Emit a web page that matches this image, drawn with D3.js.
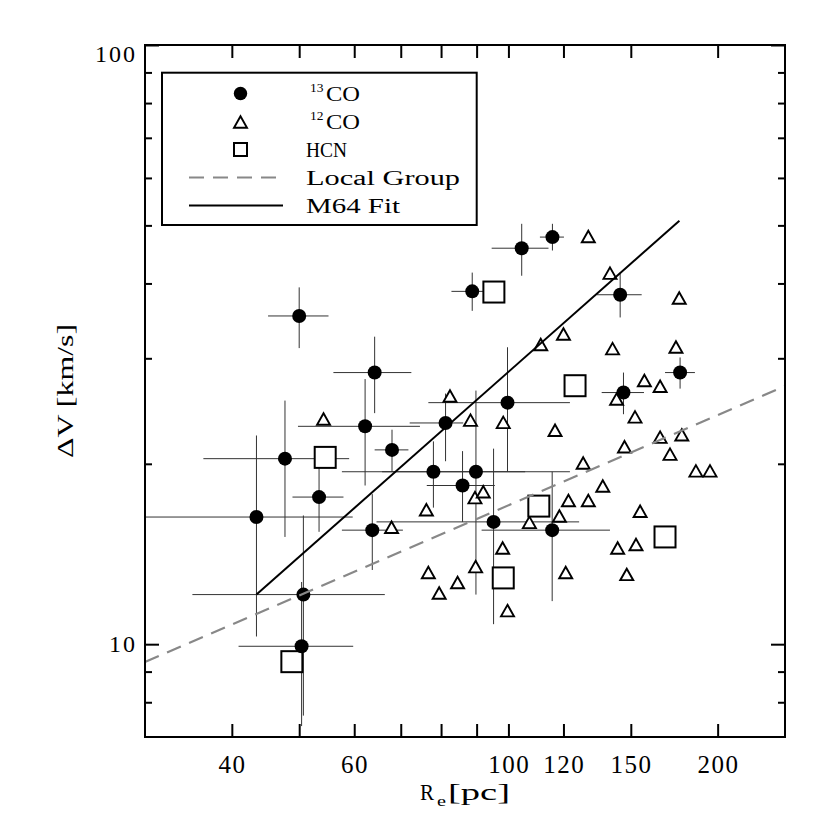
<!DOCTYPE html>
<html><head><meta charset="utf-8">
<script src="https://cdn.jsdelivr.net/npm/d3@7"></script>
<style>body{margin:0;background:#fff}</style>
</head><body>
<svg id="c" width="830" height="830" xmlns="http://www.w3.org/2000/svg"></svg>
<script>
// ---- data ----
const co13X   = [50.0, 88.7, 64.2, 62.2, 81.2, 68.0, 47.7, 53.4, 43.4, 78.0, 89.8, 85.9, 63.7, 50.7, 50.4, 104.5, 115.7, 144.8, 176.6, 146.4, 99.7, 95.2, 115.6];
const co13Y   = [35.3, 38.8, 28.4, 23.1, 23.4, 21.1, 20.4, 17.6, 16.3, 19.4, 19.4, 18.4, 15.5, 12.1, 9.92, 45.8, 47.8, 38.3, 28.4, 26.3, 25.3, 16.0, 15.5];
const co13XLo = [45.1, 82.8, 56.0, 49.8, 72.1, 64.2, 36.4, 48.9, 28.0, 57.6, 65.8, 76.3, 57.6, 35.1, 40.9, 94.6, 111.0, 134.0, 168.0, 136.2, 76.7, 64.6, 91.5];
const co13XHi = [55.1, 94.6, 72.5, 74.6, 86.1, 71.8, 59.0, 57.9, 59.7, 105.7, 122.6, 95.6, 70.5, 66.4, 59.8, 114.2, 120.2, 155.5, 185.5, 156.7, 122.6, 126.4, 140.0];
const co13YLo = [31.2, 36.0, 24.3, 18.4, 20.2, 19.4, 15.1, 15.4, 10.3, 16.9, 12.1, 16.0, 13.3, 7.6, 7.3, 41.2, 45.4, 35.1, 26.7, 24.2, 19.4, 10.8, 11.8];
const co13YHi = [39.4, 41.7, 32.6, 27.7, 26.2, 22.8, 25.5, 19.8, 22.3, 21.8, 26.5, 21.0, 17.8, 16.4, 12.7, 50.3, 50.3, 41.5, 30.1, 28.4, 31.3, 21.2, 19.4];

const co12X = [54.2, 82.4, 88.2, 76.2, 89.5, 67.9, 76.7, 84.5, 79.5, 89.7, 130.3, 140.0, 176.1, 120.0, 111.3, 141.2, 174.2, 156.9, 165.3, 143.1, 98.3, 152.1, 116.7, 165.3, 177.6, 146.9, 170.8, 128.1, 186.1, 195.0, 136.7, 92.0, 122.0, 130.3, 154.7, 118.4, 107.2, 98.1, 152.6, 143.6, 120.9, 148.0, 99.7];
const co12Y = [23.8, 26.0, 23.7, 16.8, 17.6, 15.7, 13.2, 12.7, 12.2, 13.5, 48.0, 41.7, 37.9, 33.0, 31.7, 31.2, 31.4, 27.6, 27.0, 25.7, 23.5, 24.0, 22.8, 22.2, 22.4, 21.4, 20.8, 20.1, 19.5, 19.5, 18.4, 18.0, 17.4, 17.4, 16.7, 16.4, 16.0, 14.5, 14.7, 14.5, 13.2, 13.1, 11.4];

const hcnX = [54.5, 95.3, 124.7, 110.6, 98.3, 168.0, 48.8];
const hcnY = [20.5, 38.7, 27.0, 17.0, 12.9, 15.1, 9.35];

const localGroupX = [30, 250];
const localGroupY = [9.34, 26.96];
const m64FitX = [43.4, 176.2];
const m64FitY = [12.1, 50.9];

const xTickValues = [40, 50, 60, 70, 80, 90, 100, 120, 150, 200];
const xTickLabelValues = [40, 60, 100, 120, 150, 200];
const xTickLabels = ["40", "60", "100", "120", "150", "200"];
const yMajorTicks = [10, 100];
const yMinorTicks = [8, 9, 20, 30, 40, 50, 60, 70, 80, 90];
const yTickLabels = ["10", "100"];

const legendSup = ["13", "12"];
const legendLabels = ["CO", "CO", "HCN", "Local Group", "M64 Fit"];

// ---- layout ----
const L = 145, R = 785, T = 45, B = 737;
const x = d3.scaleLog().domain([30, 250]).range([L, R]);
const y = d3.scaleLog().domain([7, 100]).range([B, T]);
const FONT = "'Liberation Serif', 'Times New Roman', serif";

const svg = d3.select("#c");
svg.append("rect").attr("width", 830).attr("height", 830).attr("fill", "#fff");

svg.append("defs").append("clipPath").attr("id", "plotclip")
  .append("rect").attr("x", L).attr("y", T).attr("width", R - L).attr("height", B - T);

const plot = svg.append("g").attr("clip-path", "url(#plotclip)");

// error bars
const co13 = co13X.map((v, i) => ({x: v, y: co13Y[i], xl: co13XLo[i], xh: co13XHi[i], yl: co13YLo[i], yh: co13YHi[i]}));
const eb = plot.append("g").attr("stroke", "#333").attr("stroke-width", 1).attr("fill", "none");
eb.selectAll("line.h").data(co13).join("line").attr("class", "h")
  .attr("x1", d => x(d.xl)).attr("x2", d => x(d.xh))
  .attr("y1", d => y(d.y)).attr("y2", d => y(d.y));
eb.selectAll("line.v").data(co13).join("line").attr("class", "v")
  .attr("x1", d => x(d.x)).attr("x2", d => x(d.x))
  .attr("y1", d => y(d.yl)).attr("y2", d => y(d.yh));

// triangles (12CO)
const triPath = (w, h) => `M0,${-h/2}L${w/2},${h/2}L${-w/2},${h/2}Z`;
plot.append("g").selectAll("path").data(co12X.map((v, i) => [v, co12Y[i]])).join("path")
  .attr("d", triPath(13, 11.5))
  .attr("transform", d => `translate(${x(d[0])},${y(d[1]) + 0.5})`)
  .attr("fill", "#fff").attr("stroke", "#000").attr("stroke-width", 1.9).attr("stroke-linejoin", "miter");

// squares (HCN)
plot.append("g").selectAll("rect").data(hcnX.map((v, i) => [v, hcnY[i]])).join("rect")
  .attr("x", d => x(d[0]) - 10.5).attr("y", d => y(d[1]) - 10.5)
  .attr("width", 21).attr("height", 21)
  .attr("fill", "#fff").attr("stroke", "#000").attr("stroke-width", 2);

// circles (13CO)
plot.append("g").selectAll("circle").data(co13).join("circle")
  .attr("cx", d => x(d.x)).attr("cy", d => y(d.y)).attr("r", 7).attr("fill", "#000");

// lines
const line = d3.line().x(d => x(d[0])).y(d => y(d[1]));
plot.append("path").datum(localGroupX.map((v, i) => [v, localGroupY[i]]))
  .attr("d", line).attr("fill", "none").attr("stroke", "#888").attr("stroke-width", 2.2)
  .attr("stroke-dasharray", "15,9");
plot.append("path").datum(m64FitX.map((v, i) => [v, m64FitY[i]]))
  .attr("d", line).attr("fill", "none").attr("stroke", "#000").attr("stroke-width", 2);

// axes (ticks inward)
function styleAxis(g) {
  g.select(".domain").remove();
  g.selectAll(".tick line").attr("stroke", "#000").attr("stroke-width", 2);
  g.selectAll(".tick text").remove();
}
svg.append("g").attr("transform", `translate(0,${B})`)
  .call(d3.axisBottom(x).tickValues(xTickValues).tickSize(-13).tickFormat("")).call(styleAxis);
svg.append("g").attr("transform", `translate(0,${T})`)
  .call(d3.axisTop(x).tickValues(xTickValues).tickSize(-13).tickFormat("")).call(styleAxis);
svg.append("g").attr("transform", `translate(${L},0)`)
  .call(d3.axisLeft(y).tickValues(yMajorTicks).tickSize(-14).tickFormat("")).call(styleAxis);
svg.append("g").attr("transform", `translate(${L},0)`)
  .call(d3.axisLeft(y).tickValues(yMinorTicks).tickSize(-7).tickFormat("")).call(styleAxis);
svg.append("g").attr("transform", `translate(${R},0)`)
  .call(d3.axisRight(y).tickValues(yMajorTicks).tickSize(-14).tickFormat("")).call(styleAxis);
svg.append("g").attr("transform", `translate(${R},0)`)
  .call(d3.axisRight(y).tickValues(yMinorTicks).tickSize(-7).tickFormat("")).call(styleAxis);

// frame
svg.append("rect").attr("x", L).attr("y", T).attr("width", R - L).attr("height", B - T)
  .attr("fill", "none").attr("stroke", "#000").attr("stroke-width", 2);

// tick labels
svg.append("g").selectAll("text").data(xTickLabelValues).join("text")
  .attr("x", d => x(d) + 0.75).attr("y", 773)
  .attr("text-anchor", "middle").attr("font-family", FONT).attr("font-size", 25)
  .attr("letter-spacing", 1.5)
  .text((d, i) => xTickLabels[i]);
svg.append("g").selectAll("text").data(yMajorTicks).join("text")
  .attr("x", 137).attr("y", d => d === 100 ? y(d) + 16.5 : y(d) + 8)
  .attr("text-anchor", "end").attr("font-family", FONT).attr("font-size", 24)
  .attr("letter-spacing", 2)
  .text((d, i) => yTickLabels[i]);

// axis titles
const xt = svg.append("g").attr("font-family", FONT).attr("fill", "#000");
xt.append("text").attr("x", 420).attr("y", 800).attr("font-size", 23)
  .attr("textLength", 14).attr("lengthAdjust", "spacingAndGlyphs").text("R");
xt.append("text").attr("x", 437).attr("y", 806).attr("font-size", 15)
  .attr("textLength", 9).attr("lengthAdjust", "spacingAndGlyphs").text("e");
xt.append("text").attr("x", 448).attr("y", 800).attr("font-size", 23)
  .attr("textLength", 62).attr("lengthAdjust", "spacingAndGlyphs").text("[pc]");

svg.append("text").attr("transform", "translate(73,391) rotate(-90)")
  .attr("text-anchor", "middle").attr("font-family", FONT).attr("font-size", 24)
  .attr("textLength", 134).attr("lengthAdjust", "spacingAndGlyphs").text("ΔV [km/s]");

// legend
const lg = svg.append("g");
lg.append("rect").attr("x", 162).attr("y", 72.7).attr("width", 314.7).attr("height", 152.3)
  .attr("fill", "#fff").attr("stroke", "#000").attr("stroke-width", 2);
const rowY = [93.5, 121.5, 149.5, 177.5, 205.5];
const mx = 240.5;
lg.append("circle").attr("cx", mx).attr("cy", rowY[0]).attr("r", 6.7).attr("fill", "#000");
lg.append("path").attr("d", triPath(13, 11.5)).attr("transform", `translate(${mx},${rowY[1] + 0.5})`)
  .attr("fill", "#fff").attr("stroke", "#000").attr("stroke-width", 1.9);
lg.append("rect").attr("x", mx - 6.5).attr("y", rowY[2] - 6.5).attr("width", 13).attr("height", 13)
  .attr("fill", "#fff").attr("stroke", "#000").attr("stroke-width", 2);
lg.append("line").attr("x1", 189).attr("x2", 283).attr("y1", rowY[3]).attr("y2", rowY[3])
  .attr("stroke", "#888").attr("stroke-width", 2.2).attr("stroke-dasharray", "15,9");
lg.append("line").attr("x1", 189).attr("x2", 283).attr("y1", rowY[4]).attr("y2", rowY[4])
  .attr("stroke", "#000").attr("stroke-width", 2);

const lt = lg.append("g").attr("font-family", FONT).attr("fill", "#000");
[0, 1].forEach(k => {
  lt.append("text").attr("x", 310).attr("y", rowY[k] - 2).attr("font-size", 13.5).text(legendSup[k]);
  lt.append("text").attr("x", 326).attr("y", rowY[k] + 7).attr("font-size", 20)
    .attr("textLength", 34).attr("lengthAdjust", "spacingAndGlyphs").text(legendLabels[k]);
});
const lens = [41, 154, 94];
[2, 3, 4].forEach((k, j) => {
  lt.append("text").attr("x", 306).attr("y", rowY[k] + 7).attr("font-size", 20)
    .attr("textLength", lens[j]).attr("lengthAdjust", "spacingAndGlyphs").text(legendLabels[k]);
});
</script>
</body></html>
